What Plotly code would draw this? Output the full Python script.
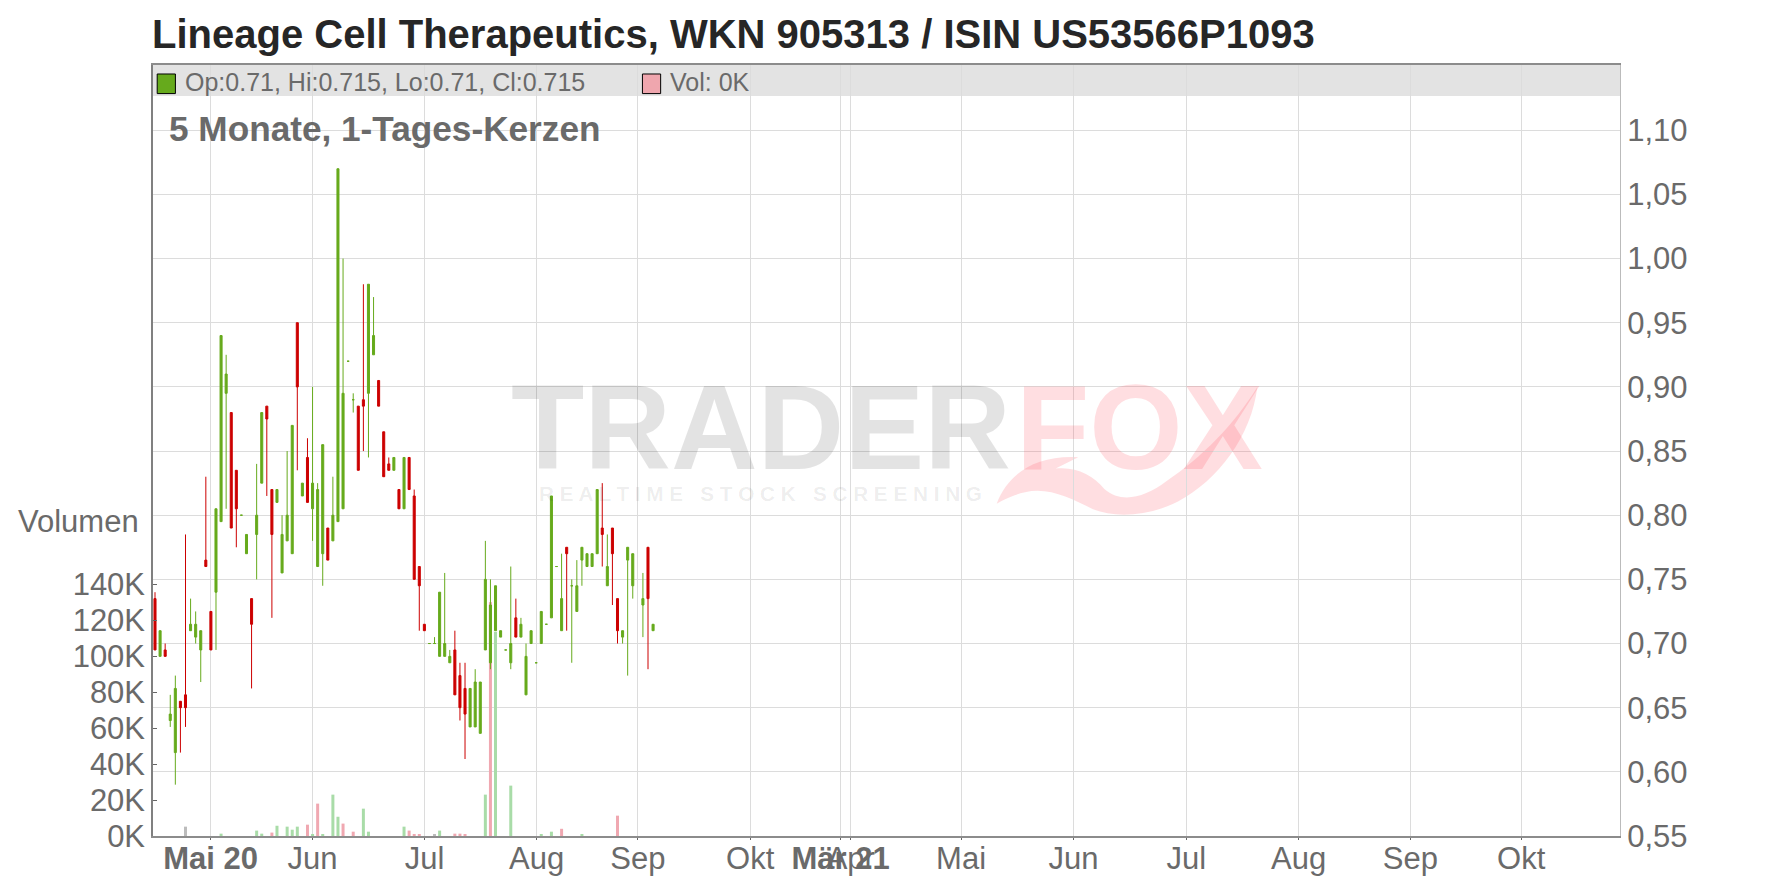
import plotly.graph_objects as go

W, H = 1776, 888
L, R, T, B = 153.3, 1619.6, 65.0, 836.5

opens  = [.735,.69,.695,.64,.615,.655,.66,.71,.705,.695,.765,.725,.74,.795,.895,.88,.835,.80,.77,.735,
          .785,.825,.885,.82,.81,.755,.78,.77,.95,.815,.845,.805,.76,.77,.79,.78,.795,.805,.92,.89,
          .885,.89,.895,.925,.905,.865,.84,.835,.82,.805,.845,.815,.76,.715,.70,.70,.69,.69,.685,.695,
          .675,.665,.635,.635,.63,.695,.685,.71,.705,.695,.685,.72,.705,.66,.70,.685,.70,.715,.72,.76,
          .71,.775,.745,.725,.765,.76,.76,.77,.79,.745,.79,.735,.705,.765,.745,None,.73,.775,.71]
highs  = [.74,.71,.70,.66,.675,.655,.785,.735,.725,.71,.83,.725,.805,.94,.925,.88,.835,.80,.785,.735,
          .84,.88,.885,.82,.82,.80,.85,.87,.95,.825,.86,.90,.825,.855,.79,.83,1.07,1.00,.92,.895,
          .885,.98,.98,.97,.905,.865,.845,.845,.82,.845,.845,.82,.76,.715,.70,.705,.74,.755,.695,.71,
          .685,.685,.665,.68,.67,.78,.75,.745,.71,.695,.76,.735,.72,.70,.71,.685,.725,.715,.815,.76,
          .77,.775,.75,.765,.775,.77,.77,.82,.825,.785,.79,.735,.71,.775,.77,None,.755,.775,.715]
lows   = [.695,.69,.69,.635,.59,.615,.635,.71,.70,.67,.76,.695,.695,.795,.805,.79,.775,.80,.77,.665,
          .75,.825,.815,.72,.81,.755,.78,.77,.835,.815,.81,.78,.76,.745,.765,.78,.795,.805,.92,.88,
          .835,.85,.845,.925,.885,.83,.835,.835,.805,.805,.82,.75,.71,.71,.70,.70,.69,.69,.685,.66,
          .64,.61,.635,.635,.63,.695,.68,.71,.705,.695,.68,.705,.705,.66,.70,.685,.70,.715,.72,.76,
          .71,.71,.685,.725,.745,.76,.76,.77,.76,.745,.73,.70,.70,.675,.735,None,.705,.68,.71]
closes = [.695,.71,.69,.645,.665,.65,.65,.715,.715,.71,.76,.695,.805,.94,.91,.79,.805,.80,.785,.715,
          .80,.88,.875,.785,.82,.785,.80,.87,.90,.825,.81,.825,.82,.855,.765,.80,1.07,.895,.92,.89,
          .835,.885,.98,.94,.885,.83,.835,.845,.805,.845,.82,.75,.745,.71,.70,.70,.74,.70,.69,.66,
          .65,.645,.665,.67,.67,.75,.73,.745,.71,.695,.70,.705,.715,.69,.71,.685,.725,.715,.815,.76,
          .735,.77,.745,.745,.775,.77,.77,.82,.785,.76,.77,.71,.71,.775,.77,None,.735,.735,.715]

vol_index = [6,13,20,21,23,24,26,27,28,30,31,32,33,35,36,37,39,41,42,49,50,51,52,55,56,59,60,61,
             65,66,67,70,76,78,80,84,91]
vol_k     = [5.2,1.3,3,1.3,1.9,5.7,5.2,3.5,5.2,6.3,.7,18,.7,23,10.7,6.9,2.4,15.2,2.4,5.2,3,.7,.7,.7,3,1.3,1.3,.7,
             23,130,113.5,28,.7,2.4,4,.7,11.3]
vol_dir   = ['flat','up','up','up','down','up','up','up','up','down','up','down','up','up','up','down','down','up','up','up','down','down','down','flat','up','down','down','down',
             'up','down','up','up','up','up','down','up','down']

price_ticks = [.55,.60,.65,.70,.75,.80,.85,.90,.95,1.00,1.05,1.10]
price_labels = ['0,55','0,60','0,65','0,70','0,75','0,80','0,85','0,90','0,95','1,00','1,05','1,10']
vol_ticks = [0,20,40,60,80,100,120,140]
vol_labels = ['0K','20K','40K','60K','80K','100K','120K','140K']
month_pos = [10.94,31,53.05,75.1,95,117.1,134.9,136.9,158.6,180.7,202.9,225,247,268.8]
month_labels = ['<b>Mai 20</b>','Jun','Jul','Aug','Sep','Okt','<b>Mär 21</b>','Apr','Mai','Jun','Jul','Aug','Sep','Okt']

GREEN, RED = '#66aa1c', '#cc0000'
TXT = '#6a6a6a'
FONT = 'Liberation Sans'
STEP, X0 = 5.08, 155.3
n = len(opens)
xs = list(range(n))

def pick(cond):
    ids = [i for i in xs if opens[i] is not None and cond(i)]
    return ids

fig = go.Figure()

vcol = {'up': '#a9dca8', 'down': '#f0a8b1', 'flat': '#bcbcbc'}
fig.add_trace(go.Bar(x=vol_index, y=vol_k, width=0.59, marker=dict(color=[vcol[d] for d in vol_dir], line_width=0),
                     yaxis='y', showlegend=False))

for ids, col in ((pick(lambda i: closes[i] >= opens[i]), GREEN), (pick(lambda i: closes[i] < opens[i]), RED)):
    fig.add_trace(go.Candlestick(
        x=ids, open=[opens[i] for i in ids], high=[highs[i] for i in ids],
        low=[lows[i] for i in ids], close=[closes[i] for i in ids], yaxis='y2',
        increasing=dict(line=dict(color=col, width=1), fillcolor=col),
        decreasing=dict(line=dict(color=col, width=1), fillcolor=col),
        whiskerwidth=0, showlegend=False))

def px(x): return (x - L) / (R - L)
def py(y): return (B - y) / (B - T)
def dx(d): return px(d / 0.883)
def dy(d): return py(d / 0.883)

def note(x, y, text, size, color=TXT, bold=False, anchor='left'):
    fig.add_annotation(xref='paper', yref='paper', x=px(x), y=py(y), text=f'<b>{text}</b>' if bold else text,
                       showarrow=False, xanchor=anchor, yanchor='middle', borderpad=0,
                       font=dict(family=FONT, size=size, color=color))

shapes = [
    dict(type='rect', xref='paper', yref='paper', x0=0, x1=1, y0=py(96), y1=1, layer='below',
         line_width=0, fillcolor='rgba(0,0,0,0.11)'),
    dict(type='rect', xref='paper', yref='paper', x0=px(157.5), x1=px(175.7), y0=py(93.6), y1=py(74),
         line=dict(color='#000000', width=1), fillcolor=GREEN),
    dict(type='rect', xref='paper', yref='paper', x0=px(642.5), x1=px(660.7), y0=py(93.6), y1=py(74),
         line=dict(color='#000000', width=1), fillcolor='#efa6ae'),
]
seg = [('M',[(880,445)]),('C',[(890,418),(915,402),(952,404)]),('L',[(932,414)]),
       ('C',[(950,412),(965,420),(975,432)]),('C',[(990,445),(1010,440),(1030,425)]),
       ('C',[(1060,405),(1090,375),(1110,342)]),('C',[(1105,385),(1075,425),(1040,443)]),
       ('C',[(1015,456),(985,458),(965,450)]),('C',[(945,440),(925,430),(905,435)]),
       ('C',[(895,437),(885,442),(880,445)])]
path = ' '.join(c + ' ' + ' '.join(f'{dx(a):.5f},{dy(b):.5f}' for a, b in p) for c, p in seg) + ' Z'
shapes.append(dict(type='path', xref='paper', yref='paper', path=path, layer='below', line_width=0,
                   fillcolor='rgba(255,60,80,0.17)'))

note(134/0.883, 30/0.883, 'Lineage Cell Therapeutics, WKN 905313 / ISIN US53566P1093', 40, '#262626', True)
note(184.5, 82, 'Op:0.71, Hi:0.715, Lo:0.71, Cl:0.715', 25)
note(669, 82, 'Vol: 0K', 25)
note(168, 129, '5 Monate, 1-Tages-Kerzen', 35.2, TXT, True)
note(124/0.883, 461/0.883, 'Volumen', 31, TXT, False, 'right')
note(510, 427, 'TRADER', 120, 'rgba(0,0,0,0.11)', True)
note(1015, 427, 'FOX', 120, 'rgba(255,60,80,0.17)', True)
note(538, 494, 'R E A L T I M E &#160; S T O C K &#160; S C R E E N I N G', 20.7, 'rgba(0,0,0,0.08)', True)

fig.update_layout(
    width=W, height=H, autosize=False, paper_bgcolor='white', plot_bgcolor='white',
    margin=dict(l=L, r=W - R, t=T, b=H - B, pad=0, autoexpand=False), showlegend=False, shapes=shapes,
    font=dict(family=FONT, color=TXT), barmode='overlay', boxmode='overlay', boxgap=0.6, boxgroupgap=0, hovermode=False,
    xaxis=dict(range=[(L - X0) / STEP, (R - X0) / STEP], tickmode='array', tickvals=month_pos, ticktext=month_labels,
               tickfont=dict(size=31, color=TXT), ticks='outside', ticklen=2, tickcolor='#666666', automargin=False,
               ticklabelstandoff=-8, showgrid=True, gridcolor='#dcdcdc', gridwidth=1, zeroline=False,
               showline=True, linecolor='#8c8c8c', linewidth=1.5, mirror=True, rangeslider=dict(visible=False),
               tickangle=0),
    yaxis=dict(range=[0, (B - T) / 36 * 20], side='left', tickmode='array', tickvals=vol_ticks, ticktext=vol_labels,
               tickfont=dict(size=31, color=TXT), ticks='inside', ticklen=4, tickcolor='#666666', showgrid=False,
               automargin=False, zeroline=False, showline=True, linecolor='#808080', linewidth=1.5),
    yaxis2=dict(range=[.55, .55 + (B - T) / 1284], side='right', overlaying='y', tickmode='array', automargin=False,
                tickvals=price_ticks, ticktext=price_labels, tickfont=dict(size=31, color=TXT), ticks='',
                showgrid=True, gridcolor='#dcdcdc', gridwidth=1, zeroline=False, showline=True,
                linecolor='#bbbbbb', linewidth=1),
)
fig.write_html('out.html', config=dict(displayModeBar=False), post_script="document.body.style.margin='0';")
